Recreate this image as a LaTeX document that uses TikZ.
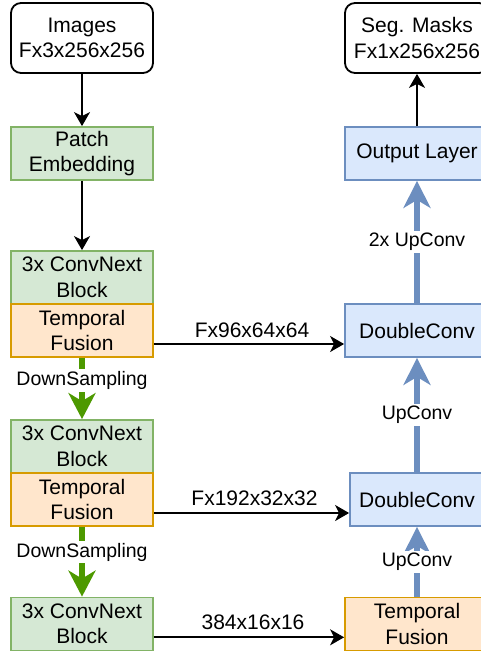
\documentclass[tikz,border=0pt]{standalone}
\usepackage{fontspec}
\setmainfont{Liberation Sans}
\usetikzlibrary{arrows.meta}

\definecolor{greenfill}{HTML}{D5E8D4}
\definecolor{greenline}{HTML}{82B366}
\definecolor{orangefill}{HTML}{FFE6CC}
\definecolor{orangeline}{HTML}{D79B00}
\definecolor{bluefill}{HTML}{DAE8FC}
\definecolor{blueline}{HTML}{6C8EBF}
\definecolor{downgreen}{HTML}{4D9900}

\begin{document}
\begin{tikzpicture}[x=1pt,y=-1pt,
  box/.style={draw, line width=1.8pt, minimum width=142pt, minimum height=53pt,
    inner sep=0pt, align=center, font=\fontsize{21}{25.5}\selectfont},
  iobox/.style={box, rounded corners=10pt, minimum height=70pt, fill=white, draw=black},
  encbox/.style={box, fill=greenfill, draw=greenline},
  fusebox/.style={box, fill=orangefill, draw=orangeline},
  decbox/.style={box, fill=bluefill, draw=blueline, minimum width=144pt},
  flow/.style={draw=black, line width=1.8pt,
    -{Stealth[length=14pt,width=16pt,inset=4pt]}},
  skip/.style={flow},
  upconv/.style={draw=blueline, line width=5.3pt,
    -{Stealth[length=27pt,width=27pt,inset=8pt]}},
  downsample/.style={draw=downgreen, line width=5.3pt,
    -{Stealth[length=26pt,width=27pt,inset=8pt]}},
  edgelabel/.style={font=\fontsize{21}{25}\selectfont, inner sep=0pt},
  steplabel/.style={font=\fontsize{19.5}{23}\selectfont, fill=white, inner sep=2pt},
]
\useasboundingbox (0,0) rectangle (481,653);
\clip (0,0) rectangle (481,653);

% encoder column
\node[iobox]   (img) at (82,38)    {Images\\Fx3x256x256};
\node[encbox]  (pe)  at (82,153.5) {Patch\\Embedding};
\node[encbox]  (cn1) at (82,277.5) {3x ConvNext\\Block};
\node[fusebox] (tf1) at (82,330.5) {Temporal\\Fusion};
\node[encbox]  (cn2) at (82,446.5) {3x ConvNext\\Block};
\node[fusebox] (tf2) at (82,499.5) {Temporal\\Fusion};
\node[encbox]  (cn3) at (82,624)   {3x ConvNext\\Block};

% decoder column
\node[iobox, minimum width=144pt] (seg) at (417,38) {Seg. Masks\\Fx1x256x256};
\node[decbox]  (out) at (417,153.5) {Output Layer};
\node[decbox]  (dc1) at (417,330.5) {DoubleConv};
\node[decbox, minimum width=134pt] (dc2) at (417,499.5) {DoubleConv};
\node[fusebox, minimum width=144pt] (tfr) at (417,624) {Temporal\\Fusion};

% encoder path
\draw[flow] (img) -- (pe);
\draw[flow] (pe) -- (cn1);
\draw[downsample] (tf1) -- node[steplabel, pos=0.37] {DownSampling} (cn2);
\draw[downsample] (tf2) -- node[steplabel, pos=0.36] {DownSampling} (cn3);

% skip connections
\draw[skip] ([yshift=-13.5pt]tf1.east) -- node[edgelabel, yshift=14pt, xshift=3pt] {Fx96x64x64} ([yshift=-13.5pt]dc1.west);
\draw[skip] ([yshift=-13.5pt]tf2.east) -- node[edgelabel, yshift=15pt, xshift=3pt] {Fx192x32x32} ([yshift=-13.5pt]dc2.west);
\draw[skip] ([yshift=-13.3pt]cn3.east) -- node[edgelabel, yshift=15pt, xshift=4pt] {384x16x16} ([yshift=-13.3pt]tfr.west);

% decoder path
\draw[upconv] (tfr) -- node[steplabel] {UpConv} (dc2);
\draw[upconv] (dc2) -- node[steplabel] {UpConv} (dc1);
\draw[upconv] (dc1) -- node[steplabel] {2x UpConv} (out);
\draw[flow] (out) -- (seg);
\end{tikzpicture}
\end{document}
